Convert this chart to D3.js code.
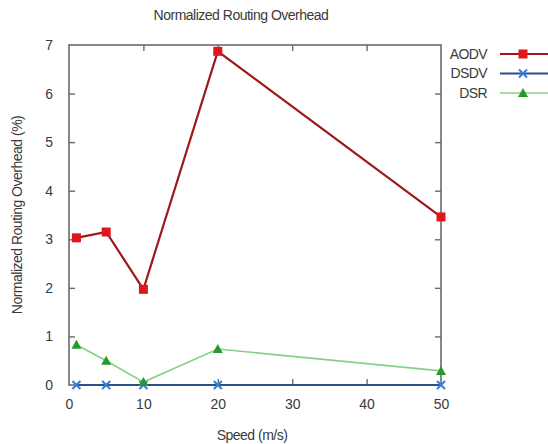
<!DOCTYPE html>
<html>
<head>
<meta charset="utf-8">
<script src="https://cdn.jsdelivr.net/npm/d3@7"></script>
<style>
  body { margin: 0; background: #fff; }
  svg { display: block; font-family: 'Liberation Sans', Arial, sans-serif; }
</style>
</head>
<body>
<svg id="chart" width="548" height="444"></svg>
<script>
'use strict';
const SPEEDS = [1, 5, 10, 20, 50];
const AODV = [3.03, 3.15, 1.97, 6.87, 3.46];
const DSDV = [0, 0, 0, 0, 0];
const DSR = [0.83, 0.5, 0.06, 0.74, 0.29];
const X_TICKS = [0, 10, 20, 30, 40, 50];
const Y_TICKS = [0, 1, 2, 3, 4, 5, 6, 7];

const SERIES = [
  { name: 'AODV', values: AODV, line: '#9c1a1c', mark: '#e0161c', shape: 'square', width: 2.2 },
  { name: 'DSDV', values: DSDV, line: '#2c4f86', mark: '#2f7fd8', shape: 'cross', width: 2 },
  { name: 'DSR', values: DSR, line: '#86d086', mark: '#27992b', shape: 'triangle', width: 1.6 },
];

const margin = { top: 45, right: 107, bottom: 59, left: 69 };
const W = 548, H = 444;
const width = W - margin.left - margin.right;
const height = H - margin.top - margin.bottom;

const svg = d3.select('#chart');
const g = svg.append('g').attr('transform', `translate(${margin.left},${margin.top})`);

const x = d3.scaleLinear().domain([0, 50]).range([0, width]);
const y = d3.scaleLinear().domain([0, 7]).range([height, 0]);

const AXIS = '#6b6b6b';
const TEXT = '#3a3a3a';
const FONT = '14px';

// frame
g.append('rect')
  .attr('width', width).attr('height', height)
  .attr('fill', 'none').attr('stroke', AXIS).attr('stroke-width', 1.6);

let styleAxis = (sel) =>
  sel
    .call((a) => a.select('.domain').remove())
    .call((a) => a.selectAll('.tick line').attr('stroke', AXIS).attr('stroke-width', 1.4))
    .call((a) => a.selectAll('.tick text').attr('fill', TEXT).style('font-size', FONT));

// x ticks (bottom, inward) + mirrored top
g.append('g')
  .attr('transform', `translate(0,${height})`)
  .call(d3.axisBottom(x).tickValues(X_TICKS).tickSize(-6).tickPadding(14).tickFormat(d3.format('d')))
  .call(styleAxis)
  .call((a) => a.selectAll('.tick').filter((d) => d === 0 || d === 50).select('line').remove());

g.append('g')
  .call(d3.axisTop(x).tickValues(X_TICKS.filter((d) => d > 0 && d < 50)).tickSize(-6).tickFormat(''))
  .call(styleAxis);

// y ticks (left, inward) + mirrored right
g.append('g')
  .call(d3.axisLeft(y).tickValues(Y_TICKS).tickSize(-6).tickPadding(16).tickFormat(d3.format('d')))
  .call(styleAxis)
  .call((a) => a.selectAll('.tick').filter((d) => d === 0 || d === 7).select('line').remove());

g.append('g')
  .attr('transform', `translate(${width},0)`)
  .call(d3.axisRight(y).tickValues(Y_TICKS.filter((d) => d > 0 && d < 7)).tickSize(-6).tickFormat(''))
  .call(styleAxis);

// markers
function drawMarker(sel, s) {
  if (s.shape === 'square') {
    sel.append('rect').attr('x', -4.5).attr('y', -4.5).attr('width', 9).attr('height', 9)
      .attr('fill', s.mark);
  } else if (s.shape === 'cross') {
    sel.append('path').attr('d', 'M-4,-4L4,4M-4,4L4,-4')
      .attr('stroke', s.mark).attr('stroke-width', 2).attr('fill', 'none');
  } else {
    sel.append('path').attr('d', 'M0,-5L5,4L-5,4Z').attr('fill', s.mark);
  }
}

const line = d3.line().x((d) => x(d[0])).y((d) => y(d[1]));

SERIES.forEach((s) => {
  const pts = SPEEDS.map((v, i) => [v, s.values[i]]);
  g.append('path').datum(pts)
    .attr('d', line).attr('fill', 'none')
    .attr('stroke', s.line).attr('stroke-width', s.width);
  g.selectAll(null).data(pts).enter().append('g')
    .attr('transform', (d) => `translate(${x(d[0])},${y(d[1])})`)
    .each(function () { drawMarker(d3.select(this), s); });
});

// legend
const legend = svg.append('g').attr('transform', 'translate(487,54)');
SERIES.forEach((s, i) => {
  const row = legend.append('g').attr('transform', `translate(0,${i * 19.5})`);
  row.append('text').attr('text-anchor', 'end').attr('dy', '0.35em')
    .attr('fill', TEXT).style('font-size', FONT).style('letter-spacing', '-0.6px').text(s.name);
  row.append('line').attr('x1', 13).attr('x2', 62)
    .attr('stroke', s.line).attr('stroke-width', s.width);
  drawMarker(row.append('g').attr('transform', 'translate(36,0)'), s);
});

// title and axis labels
svg.append('text').attr('x', 241).attr('y', 20).attr('text-anchor', 'middle')
  .attr('fill', TEXT).style('font-size', FONT).style('letter-spacing', '-0.5px')
  .text('Normalized Routing Overhead');

svg.append('text').attr('x', 252).attr('y', 440).attr('text-anchor', 'middle')
  .attr('fill', TEXT).style('font-size', FONT).style('letter-spacing', '-0.5px')
  .text('Speed (m/s)');

svg.append('text').attr('transform', 'translate(22,215) rotate(-90)').attr('text-anchor', 'middle')
  .attr('fill', TEXT).style('font-size', FONT).style('letter-spacing', '-0.5px')
  .text('Normalized Routing Overhead (%)');
</script>
</body>
</html>
